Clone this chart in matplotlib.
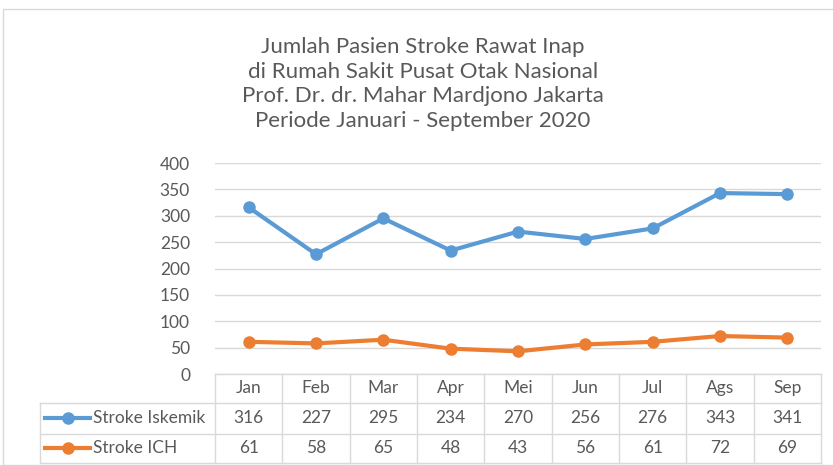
import matplotlib
matplotlib.use("Agg")
import matplotlib.pyplot as plt
from matplotlib.patches import Rectangle
from matplotlib.lines import Line2D
import matplotlib.transforms as mtrans

plt.rcParams['font.family'] = ['Lato', 'DejaVu Sans']

months    = ["Jan", "Feb", "Mar", "Apr", "Mei", "Jun", "Jul", "Ags", "Sep"]
iskemik   = [316, 227, 295, 234, 270, 256, 276, 343, 341]
ich       = [61, 58, 65, 48, 43, 56, 61, 72, 69]
series    = [("Stroke Iskemik", iskemik, "#5b9bd5"),
             ("Stroke ICH", ich, "#ed7d31")]
title = ("Jumlah Pasien Stroke Rawat Inap\n"
         "di Rumah Sakit Pusat Otak Nasional\n"
         "Prof. Dr. dr. Mahar Mardjono Jakarta\n"
         "Periode Januari - September 2020")

W, H = 833, 465
fig = plt.figure(figsize=(W / 100, H / 100), dpi=100)
txt = "#595959"
grid = "#d9d9d9"
fs = 12.5

# chart border
fig.patches.append(Rectangle((3 / W, 0), 1, 1 - 9 / H, transform=fig.transFigure,
                             fill=False, edgecolor=grid, lw=1))

ax = fig.add_axes([215 / W, (H - 374) / H, 606 / W, 211 / H])
x = list(range(len(months)))
for name, vals, col in series:
    ax.plot(x, vals, color=col, lw=3, marker="o", ms=8, solid_capstyle="round")

ax.set_xlim(-0.5, len(months) - 0.5)
ax.set_ylim(0, 400)
ax.set_yticks(range(0, 401, 50))
ax.yaxis.grid(True, color=grid, lw=1)
ax.set_axisbelow(True)
ax.tick_params(axis="y", length=0, pad=18, labelsize=fs, labelcolor=txt)
ax.set_xticks([])
for s in ax.spines.values():
    s.set_visible(False)

fig.text(423 / W, 1 - 84 / H, title, ha="center", va="center", fontsize=16,
         color=txt, linespacing=1.3)

# data table under the plot
bt = mtrans.blended_transform_factory(ax.transData, ax.transAxes)
rows = [0.0, -0.137, -0.284, -0.422]
left = -175 / 606
kw = dict(color=grid, lw=1, clip_on=False)
ax.plot([-0.5, len(months) - 0.5], [rows[0], rows[0]], transform=bt, **kw)
for r in rows[1:]:
    ax.plot([left, 1], [r, r], transform=ax.transAxes, **kw)
for b in range(len(months) + 1):
    ax.plot([b - 0.5, b - 0.5], [rows[0], rows[-1]], transform=bt, **kw)
ax.plot([left, left], [rows[1], rows[-1]], transform=ax.transAxes, **kw)

for i, m in enumerate(months):
    ax.text(i, (rows[0] + rows[1]) / 2, m, transform=bt, ha="center",
            va="center", fontsize=fs, color=txt, clip_on=False)
for k, (name, vals, col) in enumerate(series):
    yc = (rows[k + 1] + rows[k + 2]) / 2
    for i, v in enumerate(vals):
        ax.text(i, yc, str(v), transform=bt, ha="center", va="center",
                fontsize=fs, color=txt, clip_on=False)
    ax.add_line(Line2D([left + 5 / 606, left + 50 / 606], [yc, yc],
                       transform=ax.transAxes, color=col, lw=3, clip_on=False))
    ax.add_line(Line2D([left + 28 / 606], [yc], transform=ax.transAxes,
                       color=col, marker="o", ms=8, clip_on=False))
    ax.text(left + 53 / 606, yc, name, transform=ax.transAxes, ha="left",
            va="center", fontsize=fs, color=txt, clip_on=False)

fig.savefig("out.png", dpi=100)
